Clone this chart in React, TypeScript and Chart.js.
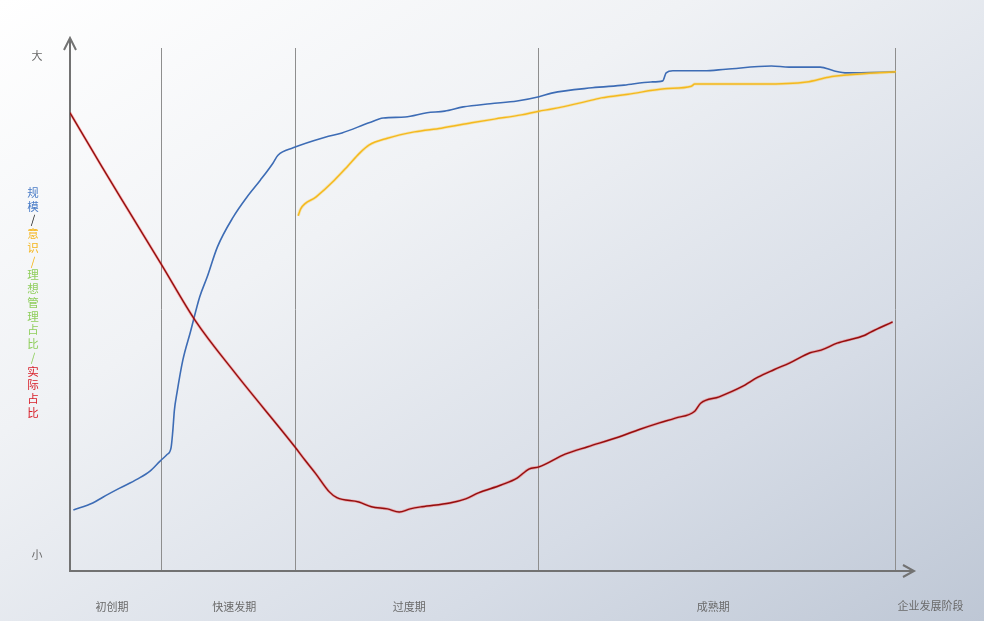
import React, { useEffect, useRef } from 'react';
import { Chart, registerables } from 'chart.js';

Chart.register(...registerables);

// x: enterprise development progress (0–100), y: magnitude (0 = 小, 100 = 大)
const scaleSeries: [number, number][] = [
  [0.4, 11.5], [2.7, 12.8], [3.9, 13.9], [5.9, 15.6], [8.0, 17.3], [9.5, 18.8], [10.7, 20.7],
  [11.5, 21.9], [12.0, 23.2], [12.2, 26.2], [12.4, 30.3], [12.7, 33.5], [13.4, 39.7], [14.3, 45.0],
  [15.4, 51.6], [16.3, 55.4], [17.5, 61.0], [19.4, 66.7], [21.0, 70.4], [22.6, 73.6], [24.1, 76.8],
  [24.7, 78.3], [26.5, 79.7], [30.3, 81.7], [32.3, 82.5], [35.5, 84.4], [37.2, 85.3], [39.8, 85.5],
  [42.4, 86.3], [44.5, 86.6], [46.7, 87.4], [49.9, 88.0], [53.1, 88.5], [55.7, 89.3], [57.2, 90.0],
  [62.0, 91.0], [65.8, 91.5], [69.0, 92.1], [70.4, 92.3], [70.8, 93.8], [71.6, 94.2], [75.3, 94.2],
  [77.9, 94.5], [83.3, 95.1], [85.4, 94.9], [89.1, 94.9], [90.7, 94.2], [92.3, 93.8], [98.1, 94.0],
];

const awarenessSeries: [number, number][] = [
  [27.1, 66.9], [27.4, 68.2], [29.2, 70.4], [31.4, 73.6], [32.9, 76.1], [34.4, 78.7], [35.5, 80.2],
  [37.7, 81.5], [40.9, 82.7], [44.1, 83.4], [47.7, 84.4], [50.4, 85.1], [53.6, 85.9], [55.7, 86.6],
  [57.2, 87.0], [61.0, 88.3], [63.1, 89.1], [66.3, 89.8], [70.6, 90.8], [73.8, 91.3], [74.2, 91.7],
  [82.2, 91.7], [87.5, 92.1], [90.1, 93.0], [92.3, 93.4], [98.1, 94.0],
];

const actualShareSeries: [number, number][] = [
  [0.0, 86.3], [3.8, 76.1], [6.9, 68.0], [10.9, 57.6], [14.9, 47.1], [19.6, 37.3], [26.7, 23.4],
  [27.9, 20.9], [29.2, 18.3], [30.8, 14.9], [31.7, 13.8], [34.3, 13.0], [35.8, 12.1], [37.7, 11.7],
  [39.1, 11.1], [40.4, 11.7], [41.8, 12.1], [45.1, 12.8], [47.0, 13.6], [48.5, 14.7], [51.2, 16.2],
  [53.1, 17.5], [54.5, 19.2], [55.7, 19.6], [58.8, 22.0], [61.5, 23.4], [64.9, 25.1], [67.7, 26.7],
  [70.0, 27.9], [71.9, 28.8], [74.2, 30.1], [74.9, 31.6], [77.1, 32.8], [79.8, 34.7], [81.7, 36.5],
  [83.6, 37.9], [85.5, 39.2], [87.9, 41.1], [89.2, 41.6], [91.1, 42.9], [94.4, 44.4], [95.1, 45.0],
  [97.7, 46.9],
];

const stageBoundaries = [10.8, 26.7, 55.6, 98.0];
const stageLabels = ['初创期', '快速发期', '过度期', '成熟期'];
const stageLabelX = [5.0, 19.5, 40.3, 76.4];
const xAxisTitle = '企业发展阶段';
const xAxisTitleX = 102.2;
const yTickLabels = ['小', '大'];
const yTickValues = [3, 97];
const yTitleParts: { text: string; color: string }[] = [
  { text: '规模', color: '#4a7cc7' },
  { text: '/', color: '#222222' },
  { text: '意识', color: '#f5b51a' },
  { text: '/', color: '#f5b51a' },
  { text: '理想管理占比', color: '#8fce5c' },
  { text: '/', color: '#8fce5c' },
  { text: '实际占比', color: '#d8202a' },
];

const FONT = '"Noto Sans CJK SC", "Noto Sans", sans-serif';

const decorPlugin = {
  id: 'decor',
  beforeDatasetsDraw(chart: any) {
    const { ctx, chartArea, scales } = chart;
    const xs = scales.x;
    ctx.save();
    ctx.strokeStyle = '#8e8e8e';
    ctx.lineWidth = 1;
    for (const b of stageBoundaries) {
      const px = Math.round(xs.getPixelForValue(b)) + 0.5;
      ctx.beginPath();
      ctx.moveTo(px, chartArea.top + 8);
      ctx.lineTo(px, chartArea.bottom);
      ctx.stroke();
    }
    ctx.strokeStyle = '#727272';
    ctx.lineWidth = 2;
    const x0 = chartArea.left;
    const y0 = chartArea.bottom;
    ctx.beginPath();
    ctx.moveTo(x0, y0);
    ctx.lineTo(x0, chartArea.top - 1);
    ctx.moveTo(x0 - 1, y0);
    ctx.lineTo(chartArea.right + 1, y0);
    ctx.stroke();
    ctx.beginPath();
    ctx.moveTo(x0 - 6, chartArea.top + 10);
    ctx.lineTo(x0, chartArea.top - 2);
    ctx.lineTo(x0 + 6, chartArea.top + 10);
    ctx.moveTo(chartArea.right - 9, y0 - 6);
    ctx.lineTo(chartArea.right + 2, y0);
    ctx.lineTo(chartArea.right - 9, y0 + 6);
    ctx.stroke();
    ctx.restore();
  },
  afterDraw(chart: any) {
    const { ctx, chartArea, scales } = chart;
    const xs = scales.x;
    const ys = scales.y;
    ctx.save();
    ctx.font = `11px ${FONT}`;
    ctx.fillStyle = '#6a6a6a';
    ctx.textAlign = 'center';
    ctx.textBaseline = 'middle';
    const labelY = chartArea.bottom + 36;
    stageLabels.forEach((t, i) => ctx.fillText(t, xs.getPixelForValue(stageLabelX[i]), labelY));
    ctx.fillText(xAxisTitle, xs.getPixelForValue(xAxisTitleX), labelY - 1);
    yTickLabels.forEach((t, i) => ctx.fillText(t, chartArea.left - 33, ys.getPixelForValue(yTickValues[i])));
    const chars: { c: string; color: string }[] = [];
    yTitleParts.forEach((p) => Array.from(p.text).forEach((c) => chars.push({ c, color: p.color })));
    const step = 13.75;
    const mid = (chartArea.top + chartArea.bottom) / 2 - 3;
    const start = mid - ((chars.length - 1) * step) / 2;
    ctx.font = `11.5px ${FONT}`;
    chars.forEach((ch, i) => {
      ctx.fillStyle = ch.color;
      ctx.fillText(ch.c, chartArea.left - 37, start + i * step);
    });
    ctx.restore();
  },
};

const toPoints = (s: [number, number][]) => s.map(([x, y]) => ({ x, y }));

export default function App() {
  const ref = useRef<HTMLCanvasElement>(null);
  useEffect(() => {
    if (!ref.current) return;
    const common = { pointRadius: 0, cubicInterpolationMode: 'monotone' as const };
    const chart = new Chart(ref.current, {
      type: 'line',
      data: {
        datasets: [
          {
            label: '实际占比 glow',
            data: toPoints(actualShareSeries),
            borderColor: 'rgba(255,40,40,0.35)',
            borderWidth: 2.8,
            ...common,
          },
          {
            label: '实际占比',
            data: toPoints(actualShareSeries),
            borderColor: '#5a0000',
            borderWidth: 1.4,
            ...common,
          },
          {
            label: '意识 glow',
            data: toPoints(awarenessSeries),
            borderColor: 'rgba(250,200,60,0.35)',
            borderWidth: 3,
            ...common,
          },
          {
            label: '意识',
            data: toPoints(awarenessSeries),
            borderColor: '#f2b10f',
            borderWidth: 1.5,
            ...common,
          },
          {
            label: '规模',
            data: toPoints(scaleSeries),
            borderColor: '#3d6cb5',
            borderWidth: 1.6,
            ...common,
          },
        ],
      },
      options: {
        animation: false,
        responsive: true,
        maintainAspectRatio: false,
        layout: { padding: { left: 70, right: 72, top: 40, bottom: 50 } },
        plugins: { legend: { display: false }, tooltip: { enabled: false } },
        scales: {
          x: { type: 'linear', min: 0, max: 100, display: false },
          y: { type: 'linear', min: 0, max: 100, display: false },
        },
      },
      plugins: [decorPlugin],
    });
    return () => chart.destroy();
  }, []);

  return (
    <div
      style={{
        position: 'fixed',
        left: 0,
        top: 0,
        width: 984,
        height: 621,
        background:
          'linear-gradient(to bottom right, #ffffff 0%, #f0f2f5 35%, #d6dce6 72%, #bec7d5 100%)',
      }}
    >
      <canvas ref={ref} />
    </div>
  );
}
